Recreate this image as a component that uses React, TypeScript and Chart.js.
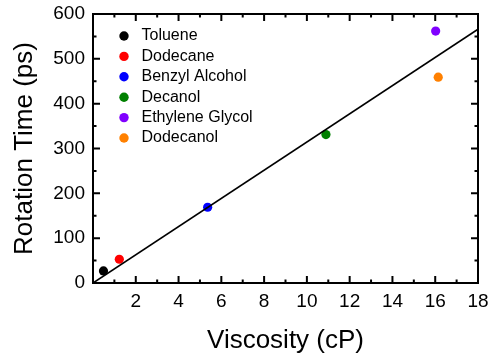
import React, { useEffect, useRef } from 'react';
import { Chart, registerables } from 'chart.js';

Chart.register(...registerables);

// Solvents, their viscosity (cP) and measured rotation time (ps)
const solvents = ['Toluene', 'Dodecane', 'Benzyl Alcohol', 'Decanol', 'Ethylene Glycol', 'Dodecanol'];
const viscosity = [0.49, 1.23, 5.36, 10.89, 16.02, 16.14];
const rotationTime = [27, 53, 169, 331, 562, 459];
const solventColors = ['#000000', '#ff0000', '#0000ff', '#008000', '#8000ff', '#ff8000'];

// Linear fit through the origin
const fitViscosity = [0, 18];
const fitRotation = [0, 566];

const FONT = '"Liberation Sans", Arial, Helvetica, sans-serif';

// Closed frame with inward major and minor ticks on all four sides
const frameAndTicks = {
  id: 'frameAndTicks',
  afterDraw(chart: any) {
    const { ctx, chartArea: a, scales } = chart;
    const xs = scales.x;
    const ys = scales.y;
    const major = 7;
    const minor = 3.5;
    ctx.save();
    ctx.strokeStyle = '#000';
    ctx.lineWidth = 2;
    ctx.lineCap = 'butt';
    ctx.strokeRect(a.left, a.top, a.right - a.left, a.bottom - a.top);
    ctx.beginPath();
    const xv = xs.ticks.map((t: any) => t.value);
    xv.forEach((v: number, i: number) => {
      const px = xs.getPixelForValue(v);
      ctx.moveTo(px, a.bottom); ctx.lineTo(px, a.bottom - major);
      ctx.moveTo(px, a.top); ctx.lineTo(px, a.top + major);
      if (i < xv.length - 1) {
        const m = xs.getPixelForValue((v + xv[i + 1]) / 2);
        ctx.moveTo(m, a.bottom); ctx.lineTo(m, a.bottom - minor);
        ctx.moveTo(m, a.top); ctx.lineTo(m, a.top + minor);
      }
    });
    const yv = ys.ticks.map((t: any) => t.value);
    yv.forEach((v: number, i: number) => {
      const py = ys.getPixelForValue(v);
      ctx.moveTo(a.left, py); ctx.lineTo(a.left + major, py);
      ctx.moveTo(a.right, py); ctx.lineTo(a.right - major, py);
      if (i < yv.length - 1) {
        const m = ys.getPixelForValue((v + yv[i + 1]) / 2);
        ctx.moveTo(a.left, m); ctx.lineTo(a.left + minor, m);
        ctx.moveTo(a.right, m); ctx.lineTo(a.right - minor, m);
      }
    });
    ctx.stroke();
    ctx.restore();
  },
};

// Legend of the solvent markers, inside the top-left of the plot
const solventLegend = {
  id: 'solventLegend',
  afterDraw(chart: any) {
    const { ctx, chartArea: a } = chart;
    const items = chart.data.datasets.filter((d: any) => d.isSolvent);
    ctx.save();
    ctx.font = `16px ${FONT}`;
    ctx.textBaseline = 'middle';
    ctx.textAlign = 'left';
    items.forEach((d: any, i: number) => {
      const cy = a.top + 22 + i * 20.4;
      const cx = a.left + 31;
      ctx.beginPath();
      ctx.fillStyle = d.backgroundColor;
      ctx.arc(cx, cy, 4.7, 0, Math.PI * 2);
      ctx.fill();
      ctx.fillStyle = '#000';
      ctx.fillText(d.label, a.left + 48.5, cy);
    });
    ctx.restore();
  },
};

// Keep the plot frame at fixed edges regardless of label overhang
const clearPadding = (s: any) => {
  s.paddingTop = 0;
  s.paddingBottom = 0;
  s.paddingLeft = 0;
  s.paddingRight = 0;
};

export default function App() {
  const canvasRef = useRef<HTMLCanvasElement | null>(null);

  useEffect(() => {
    if (!canvasRef.current) return;
    const fitData = fitViscosity.map((x, i) => ({ x, y: fitRotation[i] }));
    const pointSets = solvents.map((name, i) => ({
      label: name,
      isSolvent: true,
      data: [{ x: viscosity[i], y: rotationTime[i] }],
      backgroundColor: solventColors[i],
      borderColor: solventColors[i],
      pointRadius: 4.6,
      pointBorderWidth: 0,
      showLine: false,
    }));
    const chart = new Chart(canvasRef.current, {
      type: 'scatter',
      data: {
        datasets: [
          {
            label: 'Fit',
            data: fitData,
            showLine: true,
            borderColor: '#000',
            borderWidth: 1.6,
            pointRadius: 0,
            fill: false,
          } as any,
          ...pointSets,
        ],
      },
      options: {
        responsive: false,
        animation: false,
        devicePixelRatio: 1,
        layout: { padding: { left: 0, top: 14, right: 16, bottom: 0 } },
        plugins: {
          legend: { display: false },
          tooltip: { enabled: false },
        },
        scales: {
          x: {
            type: 'linear',
            min: 0,
            max: 18,
            grid: { display: false, drawTicks: false },
            border: { display: false },
            ticks: {
              stepSize: 2,
              padding: 7,
              color: '#000',
              font: { family: FONT, size: 19 },
              maxRotation: 0,
              callback: (v: any) => (v === 0 ? '' : String(v)),
            },
            title: {
              display: true,
              text: 'Viscosity (cP)',
              color: '#000',
              font: { family: FONT, size: 26 },
              padding: { top: 0, bottom: 8 },
            },
            afterFit: (s: any) => { s.height = 81; clearPadding(s); },
          },
          y: {
            type: 'linear',
            min: 0,
            max: 600,
            grid: { display: false, drawTicks: false },
            border: { display: false },
            ticks: {
              stepSize: 100,
              padding: 8,
              color: '#000',
              font: { family: FONT, size: 19 },
            },
            title: {
              display: true,
              text: 'Rotation Time (ps)',
              color: '#000',
              font: { family: FONT, size: 26 },
              padding: { top: 9, bottom: 0 },
            },
            afterFit: (s: any) => { s.width = 93; clearPadding(s); },
          },
        },
      } as any,
      plugins: [frameAndTicks, solventLegend],
    });
    return () => chart.destroy();
  }, []);

  return (
    <div style={{ position: 'absolute', left: 0, top: 0, width: 494, height: 364, background: '#fff' }}>
      <canvas ref={canvasRef} width={494} height={364} />
    </div>
  );
}
